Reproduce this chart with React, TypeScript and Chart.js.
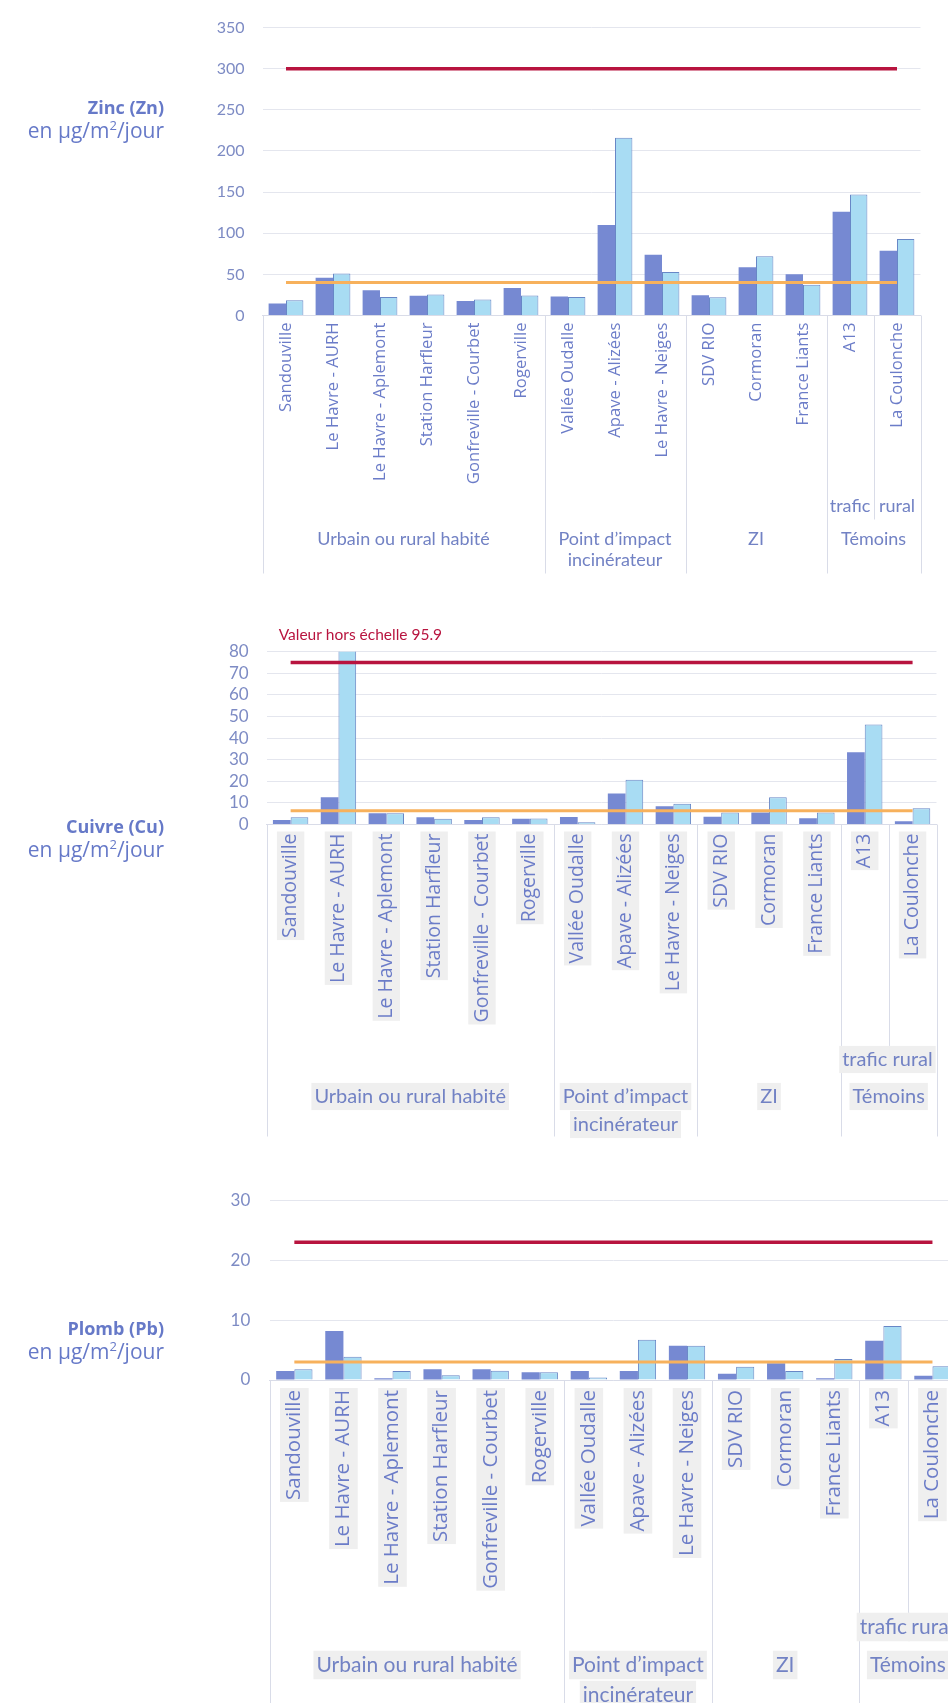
import React, { useEffect, useRef } from 'react';
import { Chart, registerables } from 'chart.js';

Chart.register(...registerables);

// ---------------- data ----------------
const categories = [
  'Sandouville',
  'Le Havre - AURH',
  'Le Havre - Aplemont',
  'Station Harfleur',
  'Gonfreville - Courbet',
  'Rogerville',
  'Vallée Oudalle',
  'Apave - Alizées',
  'Le Havre - Neiges',
  'SDV RIO',
  'Cormoran',
  'France Liants',
  'A13',
  'La Coulonche',
];

const groupLabels = [['Urbain ou rural habité'], ['Point d’impact', 'incinérateur'], ['ZI'], ['Témoins']];
const groupFirst = [0, 6, 9, 12];
const groupLast = [5, 8, 11, 13];
const subLabels = ['trafic', 'rural'];
const subIndex = [12, 13];

const seriesNames = ['Campagne 1', 'Campagne 2'];
const lineNames = ['Valeur limite', 'Valeur de référence'];

const zincSerie1 = [14.5, 46, 30.7, 24, 17.6, 33.5, 23.2, 110, 74, 24.7, 58.8, 50, 126, 78.6];
const zincSerie2 = [18.4, 51, 22.4, 25.5, 19.6, 24.3, 22.4, 216, 53, 22.3, 72, 37.4, 147, 93];
const zincLimit = 300;
const zincRef = 40;
const zincYMax = 350;
const zincYStep = 50;

const cuivreSerie1 = [2.1, 12.6, 5.2, 3.3, 2.1, 2.7, 3.5, 14.4, 8.4, 3.6, 5.5, 2.9, 33.4, 1.5];
const cuivreSerie2 = [3.3, 95.9, 5.2, 2.7, 3.3, 2.8, 1.0, 20.7, 9.6, 5.5, 12.6, 5.5, 46.3, 7.5];
const cuivreLimit = 75;
const cuivreRef = 6.4;
const cuivreYMax = 80;
const cuivreYStep = 10;
const cuivreNote = 'Valeur hors échelle 95.9';

const plombSerie1 = [1.5, 8.2, 0.3, 1.8, 1.8, 1.3, 1.5, 1.5, 5.7, 1.05, 2.8, 0.3, 6.55, 0.7];
const plombSerie2 = [1.8, 3.9, 1.5, 0.8, 1.55, 1.3, 0.4, 6.7, 5.7, 2.2, 1.5, 3.5, 9.0, 2.3];
const plombLimit = 23;
const plombRef = 3;
const plombYMax = 30;
const plombYStep = 10;

// ---------------- styles ----------------
const DARK = '#7689d2';
const LIGHT = '#a8dcf3';
const LIGHT_BORDER = '#6887c6';
const RED = '#b8143f';
const ORANGE = '#f7b15c';
const GRID = '#e4e6ee';
const AXIS = '#d9dce8';
const TICK_COLOR = '#7d8bc4';
const CAT_COLOR = '#6b7cc8';
const GROUP_COLOR = '#7282c4';
const TITLE_COLOR = '#6679c8';
const BACKDROP = '#efefef';

const groupsPlugin = {
  id: 'groupAxis',
  afterDraw(chart: any, _args: any, o: any) {
    const { ctx, chartArea } = chart;
    const x = chart.scales.x;
    const half = (x.getPixelForValue(1) - x.getPixelForValue(0)) / 2;
    const b = chartArea.bottom;
    ctx.save();
    ctx.strokeStyle = AXIS;
    ctx.lineWidth = 1;
    const vline = (px: number, len: number) => {
      const xx = Math.round(px) + 0.5;
      ctx.beginPath();
      ctx.moveTo(xx, b);
      ctx.lineTo(xx, b + len);
      ctx.stroke();
    };
    groupFirst.forEach((i) => vline(x.getPixelForValue(i) - half, o.sepLen));
    vline(x.getPixelForValue(groupLast[groupLast.length - 1]) + half, o.sepLen);
    for (let k = 1; k < subIndex.length; k++) vline(x.getPixelForValue(subIndex[k]) - half, o.subSepLen);

    ctx.font = `${o.groupFont}px Lato`;
    ctx.textAlign = 'center';
    ctx.textBaseline = 'middle';
    const drawText = (t: string, cx: number, cy: number) => {
      if (o.backdrop) {
        const w = ctx.measureText(t).width;
        ctx.fillStyle = BACKDROP;
        ctx.fillRect(cx - w / 2 - 3, cy - o.groupFont * 0.68, w + 6, o.groupFont * 1.36);
      }
      ctx.fillStyle = GROUP_COLOR;
      ctx.fillText(t, cx, cy);
    };
    subLabels.forEach((t, k) => drawText(t, x.getPixelForValue(subIndex[k]), b + o.subOffset));
    groupLabels.forEach((lines, g) => {
      const cx = (x.getPixelForValue(groupFirst[g]) + x.getPixelForValue(groupLast[g])) / 2;
      lines.forEach((t, j) => drawText(t, cx, b + o.groupOffset + j * o.lineGap));
    });
    if (o.note) {
      ctx.textAlign = 'left';
      ctx.font = `${o.noteFont}px Lato`;
      ctx.fillStyle = RED;
      ctx.fillText(o.note, chartArea.left + o.noteDx, chartArea.top + o.noteDy);
    }
    ctx.restore();
  },
};

type Layout = {
  top: number;
  height: number;
  width: number;
  plotLeft: number;
  plotRight: number;
  plotTop: number;
  plotBottom: number;
  tickFont: number;
  tickPad: number;
  catFont: number;
  catPad: number;
  backdrop: boolean;
  group: any;
};

function Panel(props: {
  layout: Layout;
  s1: number[];
  s2: number[];
  limit: number;
  reference: number;
  yMax: number;
  yStep: number;
}) {
  const ref = useRef<HTMLCanvasElement>(null);
  const L = props.layout;
  useEffect(() => {
    const canvas = ref.current!;
    const lh = L.catFont * 1.2;
    const chart = new Chart(canvas, {
      type: 'bar',
      data: {
        labels: categories,
        datasets: [
          {
            type: 'line',
            label: lineNames[0],
            data: categories.map(() => props.limit),
            borderColor: RED,
            borderWidth: 3.5,
            pointRadius: 0,
            order: 0,
          } as any,
          {
            type: 'line',
            label: lineNames[1],
            data: categories.map(() => props.reference),
            borderColor: ORANGE,
            borderWidth: 3,
            pointRadius: 0,
            order: 0,
          } as any,
          {
            type: 'bar',
            label: seriesNames[0],
            data: props.s1,
            backgroundColor: DARK,
            borderWidth: 0,
            order: 1,
            clip: 0,
          } as any,
          {
            type: 'bar',
            label: seriesNames[1],
            data: props.s2,
            backgroundColor: LIGHT,
            borderColor: LIGHT_BORDER,
            borderWidth: 1,
            order: 1,
            clip: 0,
          } as any,
        ],
      },
      options: {
        responsive: false,
        animation: false,
        events: [],
        datasets: { bar: { categoryPercentage: 0.74, barPercentage: 1 } } as any,
        layout: {
          padding: {
            left: 0,
            top: L.plotTop - L.top,
            right: L.width - L.plotRight,
            bottom: 0,
          },
        },
        plugins: {
          legend: { display: false },
          tooltip: { enabled: false },
          groupAxis: L.group,
        } as any,
        scales: {
          x: {
            type: 'category',
            grid: { display: false, drawTicks: false },
            border: { display: true, color: AXIS, width: 1 },
            ticks: {
              autoSkip: false,
              minRotation: 90,
              maxRotation: 90,
              padding: L.catPad,
              color: CAT_COLOR,
              font: { family: "'Open Sans'", size: L.catFont },
              showLabelBackdrop: L.backdrop,
              backdropColor: BACKDROP,
              backdropPadding: 2,
              labelOffset: L.backdrop ? -lh / 2 : 0,
            } as any,
            afterFit: (s: any) => {
              s.height = L.top + L.height - L.plotBottom;
            },
          },
          y: {
            min: 0,
            max: props.yMax,
            ticks: {
              stepSize: props.yStep,
              autoSkip: false,
              padding: L.tickPad,
              color: TICK_COLOR,
              font: { family: 'Lato', size: L.tickFont },
            },
            grid: { color: GRID, drawTicks: false, lineWidth: 1 },
            border: { display: false },
            afterFit: (s: any) => {
              s.width = L.plotLeft;
            },
          },
        },
      },
      plugins: [groupsPlugin],
    });
    return () => chart.destroy();
  }, []);
  return (
    <canvas
      ref={ref}
      width={L.width}
      height={L.height}
      style={{ position: 'absolute', left: 0, top: L.top, width: L.width, height: L.height }}
    />
  );
}

function Title(props: { name: string; y: number }) {
  return (
    <>
      <div
        style={{
          position: 'absolute',
          right: 948 - 164,
          top: props.y - 13,
          height: 26,
          lineHeight: '26px',
          whiteSpace: 'nowrap',
          fontFamily: "'Open Sans'",
          fontWeight: 700,
          fontSize: 18,
          color: TITLE_COLOR,
        }}
      >
        {props.name}
      </div>
      <div
        style={{
          position: 'absolute',
          right: 948 - 164,
          top: props.y + 9,
          height: 28,
          lineHeight: '28px',
          whiteSpace: 'nowrap',
          fontFamily: "'Open Sans'",
          fontSize: 21,
          color: TITLE_COLOR,
        }}
      >
        en µg/m<sup style={{ fontSize: 13, lineHeight: 0 }}>2</sup>/jour
      </div>
    </>
  );
}

const layoutZinc: Layout = {
  top: 0,
  height: 585,
  width: 948,
  plotLeft: 262.5,
  plotRight: 920.5,
  plotTop: 22,
  plotBottom: 315.5,
  tickFont: 16,
  tickPad: 18,
  catFont: 16.7,
  catPad: 7,
  backdrop: false,
  group: { sepLen: 258, subSepLen: 204, subOffset: 191, groupOffset: 224, lineGap: 21, groupFont: 18, backdrop: false },
};

const layoutCuivre: Layout = {
  top: 585,
  height: 555,
  width: 948,
  plotLeft: 266.7,
  plotRight: 936.5,
  plotTop: 651.7,
  plotBottom: 824.5,
  tickFont: 17,
  tickPad: 18,
  catFont: 19.5,
  catPad: 9,
  backdrop: true,
  group: {
    sepLen: 312,
    subSepLen: 248,
    subOffset: 235,
    groupOffset: 272,
    lineGap: 28,
    groupFont: 20,
    backdrop: true,
    note: cuivreNote,
    noteFont: 15.5,
    noteDx: 12,
    noteDy: -17,
  },
};

const layoutPlomb: Layout = {
  top: 1140,
  height: 563,
  width: 970,
  plotLeft: 269.8,
  plotRight: 957,
  plotTop: 1200.3,
  plotBottom: 1380,
  tickFont: 17,
  tickPad: 19.5,
  catFont: 20.5,
  catPad: 10,
  backdrop: true,
  group: { sepLen: 400, subSepLen: 260, subOffset: 247, groupOffset: 285, lineGap: 30, groupFont: 21, backdrop: true },
};

export default function App() {
  return (
    <div
      style={{
        position: 'absolute',
        left: 0,
        top: 0,
        width: 948,
        height: 1703,
        overflow: 'hidden',
        background: '#ffffff',
      }}
    >
      <Panel layout={layoutZinc} s1={zincSerie1} s2={zincSerie2} limit={zincLimit} reference={zincRef} yMax={zincYMax} yStep={zincYStep} />
      <Panel layout={layoutCuivre} s1={cuivreSerie1} s2={cuivreSerie2} limit={cuivreLimit} reference={cuivreRef} yMax={cuivreYMax} yStep={cuivreYStep} />
      <Panel layout={layoutPlomb} s1={plombSerie1} s2={plombSerie2} limit={plombLimit} reference={plombRef} yMax={plombYMax} yStep={plombYStep} />
      <Title name="Zinc (Zn)" y={107} />
      <Title name="Cuivre (Cu)" y={826} />
      <Title name="Plomb (Pb)" y={1328} />
    </div>
  );
}
